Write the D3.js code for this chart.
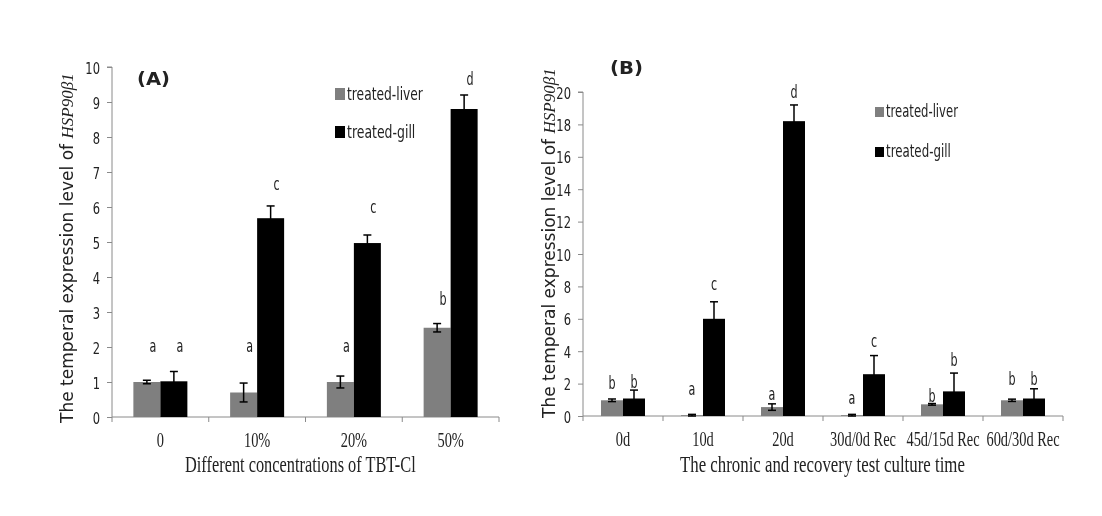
<!DOCTYPE html>
<html>
<head>
<meta charset="utf-8">
<script src="https://cdn.jsdelivr.net/npm/d3@7"></script>
<style>
  body { margin: 0; background: #fff; }
  svg { display: block; will-change: transform; }
  text { fill: #222; }
  .sans { font-family: "DejaVu Sans", "Open Sans", sans-serif; }
  .serif { font-family: "Liberation Serif", "DejaVu Serif", serif; }
</style>
</head>
<body>
<svg id="chart" width="1102" height="516"></svg>
<script>
// ---- panel A data ----
var catsA = ["0", "10%", "20%", "50%"];
var liverA = [1.0, 0.7, 1.0, 2.55];
var liverErrA = [0.05, 0.27, 0.17, 0.12];
var gillA = [1.02, 5.68, 4.97, 8.8];
var gillErrA = [0.28, 0.35, 0.23, 0.4];
var liverLetA = ["a", "a", "a", "b"];
var gillLetA = ["a", "c", "c", "d"];
var liverLetAtA = [1.86, 1.86, 1.86, 3.2];
var gillLetAtA = [1.86, 6.49, 5.83, 9.49];
var ticksA = [0, 1, 2, 3, 4, 5, 6, 7, 8, 9, 10];

// ---- panel B data ----
var catsB = ["0d", "10d", "20d", "30d/0d Rec", "45d/15d Rec", "60d/30d Rec"];
var liverB = [0.97, 0.05, 0.55, 0.05, 0.72, 0.97];
var liverErrB = [0.08, 0.05, 0.2, 0.05, 0.05, 0.07];
var gillB = [1.08, 6.0, 18.2, 2.58, 1.52, 1.08];
var gillErrB = [0.52, 1.05, 1.0, 1.15, 1.13, 0.6];
var liverLetB = ["b", "a", "a", "a", "b", "b"];
var gillLetB = ["b", "c", "d", "c", "b", "b"];
var liverLetAtB = [1.65, 1.3, 1.0, 0.75, 0.85, 1.9];
var gillLetAtB = [1.7, 7.8, 19.6, 4.25, 3.1, 1.9];
var ticksB = [0, 2, 4, 6, 8, 10, 12, 14, 16, 18, 20];

var legendNames = ["treated-liver", "treated-gill"];
var yTitle = "The temperal  expression level of ";
var yTitleGene = "HSP90β1";

var svg = d3.select("#chart");

// the source picture is squeezed sideways, so text gets a horizontal scale
function squeeze(sel, k){
  sel.each(function(){
    var t = d3.select(this);
    var x = +t.attr("x") || 0, y = +t.attr("y") || 0;
    t.attr("x", 0).attr("y", 0)
     .attr("transform", "translate(" + x + "," + y + ") scale(" + k + ",1)");
  });
}
// squeeze to a wanted width
function fitWidth(sel, w, rot){
  var len = sel.node().getComputedTextLength();
  var x = +sel.attr("x") || 0, y = +sel.attr("y") || 0;
  sel.attr("x", 0).attr("y", 0)
    .attr("transform", "translate(" + x + "," + y + ")" + (rot ? " rotate(-90)" : "") + " scale(" + (w / len) + ",1)");
}

function drawPanel(opt){
  var g = svg.append("g");
  var x = d3.scaleBand().domain(opt.cats).range([opt.left, opt.right]).paddingInner(0).paddingOuter(0);
  var y = d3.scaleLinear().domain([0, opt.max]).range([opt.bottom, opt.top]);
  var bw = opt.barW;

  // y axis
  var ya = g.append("g").attr("transform", "translate(" + opt.left + ",0)")
    .call(d3.axisLeft(y).tickValues(opt.ticks).tickSize(5).tickPadding(7));
  ya.select(".domain").attr("stroke", "#8a8a8a").attr("d", "M-5," + opt.top + "H0V" + opt.bottom);
  ya.selectAll("line").attr("stroke", "#8a8a8a");
  ya.selectAll("text").attr("class", "sans").attr("font-size", 16).attr("fill", "#333");
  ya.selectAll(".tick text").each(function(){
    var t = d3.select(this);
    t.attr("dy", null).attr("y", 6).attr("x", -12);
  });
  squeeze(ya.selectAll(".tick text"), 0.72);

  // x axis: line + ticks at category boundaries
  g.append("line").attr("x1", opt.left).attr("x2", opt.right)
    .attr("y1", opt.bottom).attr("y2", opt.bottom).attr("stroke", "#8a8a8a");
  var bounds = opt.cats.map(function(c){ return x(c); }).concat([opt.right]);
  g.selectAll(".xt").data(bounds).enter().append("line")
    .attr("x1", function(d){ return d; }).attr("x2", function(d){ return d; })
    .attr("y1", opt.bottom).attr("y2", opt.bottom + 5).attr("stroke", "#8a8a8a");
  var cl = g.append("g").selectAll("text").data(opt.cats).enter().append("text")
    .attr("class", "serif").attr("font-size", 20)
    .attr("x", function(d){ return x(d) + x.bandwidth() / 2; })
    .attr("y", opt.bottom + 30)
    .attr("text-anchor", "middle")
    .text(function(d){ return d; });
  squeeze(cl, 0.72);

  var series = [
    {vals: opt.liver, errs: opt.liverErr, lets: opt.liverLet, at: opt.liverAt, color: "#7f7f7f", off: -bw},
    {vals: opt.gill, errs: opt.gillErr, lets: opt.gillLet, at: opt.gillAt, color: "#000000", off: 0}
  ];
  series.forEach(function(s){
    var idx = d3.range(opt.cats.length);
    function cx(i){ return x(opt.cats[i]) + x.bandwidth() / 2 + s.off + bw / 2; }
    g.selectAll(null).data(idx).enter().append("rect")
      .attr("x", function(i){ return cx(i) - bw / 2; })
      .attr("y", function(i){ return y(s.vals[i]); })
      .attr("width", bw)
      .attr("height", function(i){ return y(0) - y(s.vals[i]); })
      .attr("fill", s.color);
    // error bars
    idx.forEach(function(i){
      var t = y(s.vals[i] + s.errs[i]), b = y(Math.max(0, s.vals[i] - s.errs[i]));
      g.append("line").attr("x1", cx(i)).attr("x2", cx(i)).attr("y1", t).attr("y2", b).attr("stroke", "#000").attr("stroke-width", 1.5);
      g.append("line").attr("x1", cx(i) - 4).attr("x2", cx(i) + 4).attr("y1", t).attr("y2", t).attr("stroke", "#000").attr("stroke-width", 1.5);
      g.append("line").attr("x1", cx(i) - 4).attr("x2", cx(i) + 4).attr("y1", b).attr("y2", b).attr("stroke", "#000").attr("stroke-width", 1.5);
    });
    var lt = g.selectAll(null).data(idx).enter().append("text")
      .attr("class", "sans")
      .attr("x", function(i){ return cx(i) + opt.letOff; })
      .attr("y", function(i){ return y(s.at[i]); })
      .attr("text-anchor", "middle")
      .attr("font-size", 18)
      .attr("fill", "#333")
      .text(function(i){ return s.lets[i]; });
    squeeze(lt, 0.62);
  });

  // legend
  var lg = g.append("g").attr("transform", "translate(" + opt.legX + "," + opt.legY + ")");
  ["#7f7f7f", "#000"].forEach(function(col, i){
    lg.append("rect").attr("x", 0).attr("y", i * opt.legGap - opt.boxH).attr("width", opt.boxW).attr("height", opt.boxH).attr("fill", col);
    var t = lg.append("text").attr("class", "sans").attr("x", opt.boxW + 2).attr("y", i * opt.legGap)
      .attr("font-size", 18).attr("fill", "#333").text(legendNames[i]);
    fitWidth(t, opt.legW * (i === 0 ? 1 : 0.9));
  });

  // panel label
  var tg = g.append("text").attr("class", "sans").attr("x", opt.tagX).attr("y", opt.tagY)
    .attr("font-weight", "bold").attr("font-size", 18).attr("fill", "#222").text(opt.tag);
  fitWidth(tg, 33);

  // axis titles
  var xt = g.append("text").attr("class", "serif").attr("font-size", 23)
    .attr("x", opt.xTitleX).attr("y", 472)
    .text(opt.xTitle);
  fitWidth(xt, opt.xTitleW);
  var yt = g.append("text").attr("font-size", 17).attr("fill", "#333")
    .attr("x", opt.yTitleX).attr("y", opt.yTitleY);
  yt.append("tspan").attr("class", "sans").text(yTitle);
  yt.append("tspan").attr("class", "serif").attr("font-style", "italic").text(yTitleGene);
  fitWidth(yt, 350, true);
}

drawPanel({
  cats: catsA, liver: liverA, liverErr: liverErrA, gill: gillA, gillErr: gillErrA,
  liverLet: liverLetA, gillLet: gillLetA, liverAt: liverLetAtA, gillAt: gillLetAtA,
  ticks: ticksA, max: 10, left: 112, right: 499, top: 67, bottom: 417, barW: 27, letOff: 6,
  legX: 335, legY: 100, legGap: 38, boxW: 10, boxH: 12, legW: 76,
  tag: "(A)", tagX: 137, tagY: 85,
  xTitle: "Different concentrations of TBT-Cl", xTitleX: 185, xTitleW: 231,
  yTitleX: 73, yTitleY: 423
});
drawPanel({
  cats: catsB, liver: liverB, liverErr: liverErrB, gill: gillB, gillErr: gillErrB,
  liverLet: liverLetB, gillLet: gillLetB, liverAt: liverLetAtB, gillAt: gillLetAtB,
  ticks: ticksB, max: 20, left: 583, right: 1063, top: 92, bottom: 416, barW: 22, letOff: 0,
  legX: 875, legY: 117, legGap: 40, boxW: 9, boxH: 10, legW: 72,
  tag: "(B)", tagX: 610, tagY: 74,
  xTitle: "The chronic and recovery test culture time", xTitleX: 680, xTitleW: 285,
  yTitleX: 555, yTitleY: 418
});
</script>
</body>
</html>
